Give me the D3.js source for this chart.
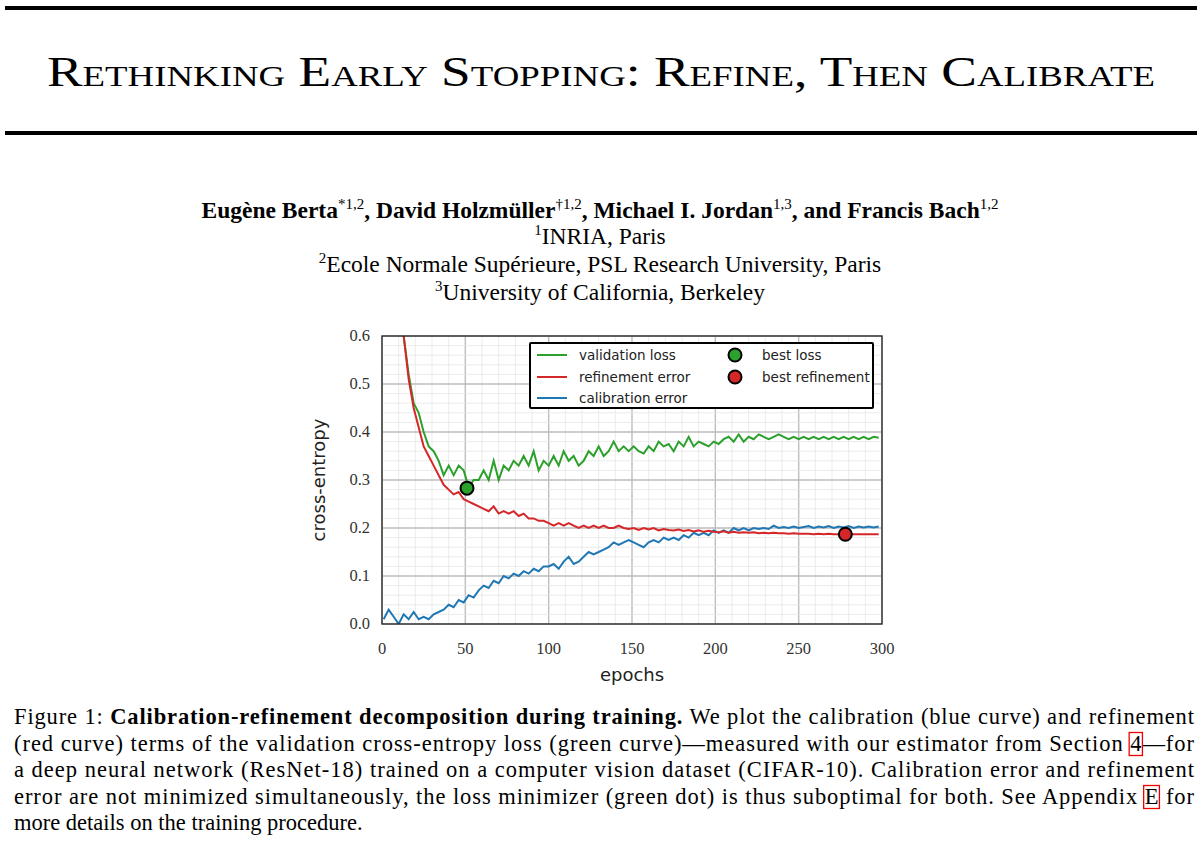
<!DOCTYPE html>
<html><head><meta charset="utf-8">
<script src="https://cdn.jsdelivr.net/npm/d3@7"></script>
<style>body{margin:0;background:#fff}svg{display:block}</style>
</head><body>
<svg id="s" width="1200" height="845"></svg>
<script>
const valLoss=[1.5,1.1,0.9,0.72,0.6,0.52,0.46,0.44,0.40,0.37,0.36,0.34,0.31,0.33,0.31,0.33,0.32,0.285,0.30,0.30,0.32,0.30,0.34,0.30,0.33,0.32,0.34,0.33,0.35,0.33,0.36,0.32,0.34,0.33,0.35,0.33,0.36,0.34,0.35,0.33,0.34,0.36,0.35,0.37,0.35,0.36,0.38,0.36,0.37,0.36,0.37,0.36,0.355,0.37,0.36,0.38,0.37,0.375,0.36,0.38,0.37,0.39,0.37,0.38,0.375,0.37,0.38,0.375,0.385,0.39,0.38,0.395,0.38,0.39,0.385,0.395,0.39,0.385,0.39,0.395,0.39,0.385,0.39,0.385,0.39,0.385,0.39,0.385,0.39,0.385,0.39,0.385,0.39,0.385,0.39,0.385,0.39,0.385,0.39,0.388];
const refErr=[1.5,1.1,0.9,0.72,0.6,0.51,0.45,0.41,0.37,0.35,0.33,0.31,0.29,0.28,0.27,0.275,0.26,0.255,0.25,0.245,0.24,0.235,0.245,0.23,0.235,0.23,0.235,0.225,0.23,0.22,0.22,0.215,0.215,0.21,0.205,0.21,0.205,0.21,0.205,0.2,0.205,0.2,0.205,0.2,0.205,0.2,0.2,0.205,0.2,0.198,0.2,0.196,0.2,0.197,0.2,0.195,0.198,0.196,0.195,0.197,0.194,0.196,0.193,0.195,0.192,0.194,0.192,0.191,0.193,0.19,0.192,0.19,0.191,0.19,0.191,0.189,0.19,0.189,0.19,0.189,0.189,0.188,0.189,0.188,0.188,0.188,0.187,0.188,0.187,0.188,0.187,0.187,0.188,0.187,0.187,0.187,0.187,0.187,0.187,0.187];
const calErr=[0.01,0.03,0.015,0.0,0.02,0.01,0.025,0.01,0.015,0.01,0.02,0.025,0.03,0.04,0.035,0.05,0.045,0.06,0.055,0.07,0.08,0.075,0.09,0.085,0.1,0.095,0.105,0.1,0.11,0.105,0.115,0.11,0.12,0.12,0.125,0.115,0.13,0.14,0.125,0.13,0.14,0.15,0.145,0.15,0.155,0.16,0.17,0.165,0.17,0.175,0.17,0.165,0.16,0.17,0.175,0.17,0.18,0.175,0.18,0.175,0.185,0.18,0.19,0.185,0.19,0.185,0.195,0.19,0.195,0.19,0.2,0.195,0.2,0.195,0.2,0.198,0.2,0.198,0.205,0.2,0.202,0.2,0.203,0.2,0.202,0.204,0.2,0.203,0.201,0.204,0.2,0.203,0.201,0.204,0.2,0.203,0.201,0.203,0.201,0.203];
const bestLoss={epoch:51,value:0.283};
const bestRef={epoch:278,value:0.187};
const xTicks=[0,50,100,150,200,250,300];
const yTicks=[0.0,0.1,0.2,0.3,0.4,0.5,0.6];

const svg=d3.select("#s");
const serif="'Liberation Serif','DejaVu Serif',serif";
const sans="'DejaVu Sans','Liberation Sans',sans-serif";
svg.append("rect").attr("x",5).attr("y",6).attr("width",1192).attr("height",4).attr("fill","#000");
svg.append("rect").attr("x",5).attr("y",131).attr("width",1192).attr("height",4).attr("fill","#000");
svg.append("text").attr("x",601).attr("y",86).attr("text-anchor","middle").attr("font-family",serif)
 .attr("font-size",42).style("font-variant","small-caps").attr("textLength",1108).attr("lengthAdjust","spacingAndGlyphs")
 .text("Rethinking Early Stopping: Refine, Then Calibrate");
const auth=svg.append("text").attr("x",600).attr("y",218).attr("text-anchor","middle").attr("font-family",serif).attr("font-size",23.5).attr("font-weight","bold");
[["Eugène Berta",""],["*1,2","s"],[", David Holzmüller",""],["†1,2","s"],[", Michael I. Jordan",""],["1,3","s"],[", and Francis Bach",""],["1,2","s"]].forEach(([t,k])=>{
 const ts=auth.append("tspan").text(t);
 if(k){ts.attr("font-size",15).attr("font-weight","normal").attr("dy",-9);} else ts.attr("dy",auth.selectAll("tspan").size()>1?9:0);
});
[["1","INRIA, Paris",244],["2","Ecole Normale Supérieure, PSL Research University, Paris",272],["3","University of California, Berkeley",300]].forEach(([s,t,y])=>{
 const tx=svg.append("text").attr("x",600).attr("y",y).attr("text-anchor","middle").attr("font-family",serif).attr("font-size",23.5);
 tx.append("tspan").attr("font-size",15).attr("dy",-9).text(s);
 tx.append("tspan").attr("dy",9).text(t);
});

const m={l:382,r:882,t:336,b:624};
const x=d3.scaleLinear().domain([0,300]).range([m.l,m.r]);
const y=d3.scaleLinear().domain([0,0.6]).range([m.b,m.t]);
const g=svg.append("g");
g.append("rect").attr("x",m.l).attr("y",m.t).attr("width",m.r-m.l).attr("height",m.b-m.t).attr("fill","#fff");
d3.range(0,301,10).forEach(v=>g.append("line").attr("x1",x(v)).attr("x2",x(v)).attr("y1",m.t).attr("y2",m.b).attr("stroke",v%50?"#e6e6e6":"#bdbdbd").attr("stroke-width",v%50?0.8:1.4));
d3.range(0,31,1).forEach(i=>{const v=i*0.02;g.append("line").attr("y1",y(v)).attr("y2",y(v)).attr("x1",m.l).attr("x2",m.r).attr("stroke",i%5?"#e6e6e6":"#bdbdbd").attr("stroke-width",i%5?0.8:1.4);});
svg.append("defs").append("clipPath").attr("id","c").append("rect").attr("x",m.l).attr("y",m.t).attr("width",m.r-m.l).attr("height",m.b-m.t);
const line=d3.line().x((d,i)=>x(i*3+1)).y(d=>y(d));
const lg=g.append("g").attr("clip-path","url(#c)");
[[valLoss,"#2ca02c"],[calErr,"#1f77b4"],[refErr,"#d62728"]].forEach(([d,c])=>lg.append("path").attr("d",line(d)).attr("fill","none").attr("stroke",c).attr("stroke-width",2));
g.append("rect").attr("x",m.l).attr("y",m.t).attr("width",m.r-m.l).attr("height",m.b-m.t).attr("fill","none").attr("stroke","#222").attr("stroke-width",1.3);
[[bestLoss,"#2ca02c"],[bestRef,"#d62728"]].forEach(([p,c])=>g.append("circle").attr("cx",x(p.epoch)).attr("cy",y(p.value)).attr("r",6.5).attr("fill",c).attr("stroke","#000").attr("stroke-width",2));
xTicks.forEach(v=>g.append("text").attr("x",x(v)).attr("y",m.b+30).attr("text-anchor","middle").attr("font-family",serif).attr("font-size",16.5).attr("fill","#333").text(v));
yTicks.forEach(v=>g.append("text").attr("x",m.l-12).attr("y",y(v)+5).attr("text-anchor","end").attr("font-family",serif).attr("font-size",16.5).attr("fill","#333").text(v.toFixed(1)));
g.append("text").attr("x",(m.l+m.r)/2).attr("y",681).attr("text-anchor","middle").attr("font-family",sans).attr("font-size",18).attr("fill","#222").text("epochs");
g.append("text").attr("transform",`translate(325,${(m.t+m.b)/2}) rotate(-90)`).attr("text-anchor","middle").attr("font-family",sans).attr("font-size",18).attr("fill","#222").text("cross-entropy");
const L=g.append("g");
L.append("rect").attr("x",530).attr("y",343).attr("width",343).attr("height",65).attr("fill","#fff").attr("stroke","#000").attr("stroke-width",2).attr("rx",1);
[["validation loss","#2ca02c",355],["refinement error","#d62728",377],["calibration error","#1f77b4",398]].forEach(([t,c,yy])=>{
 L.append("line").attr("x1",537).attr("x2",567).attr("y1",yy).attr("y2",yy).attr("stroke",c).attr("stroke-width",2);
 L.append("text").attr("x",579).attr("y",yy+5).attr("font-family",sans).attr("font-size",13.5).attr("fill","#222").text(t);
});
[["best loss","#2ca02c",355],["best refinement","#d62728",377]].forEach(([t,c,yy])=>{
 L.append("circle").attr("cx",735).attr("cy",yy).attr("r",6.5).attr("fill",c).attr("stroke","#000").attr("stroke-width",2);
 L.append("text").attr("x",762).attr("y",yy+5).attr("font-family",sans).attr("font-size",13.5).attr("fill","#222").text(t);
});
const cap=[
 [[["Figure 1: ",""],["Calibration-refinement decomposition during training.","b"],[" We plot the calibration (blue curve) and refinement",""]],true],
 [[["(red curve) terms of the validation cross-entropy loss (green curve)—measured with our estimator from Section ",""],["4","box"],["—for",""]],true],
 [[["a deep neural network (ResNet-18) trained on a computer vision dataset (CIFAR-10). Calibration error and refinement",""]],true],
 [[["error are not minimized simultaneously, the loss minimizer (green dot) is thus suboptimal for both. See Appendix ",""],["E","box"],[" for",""]],true],
 [[["more details on the training procedure.",""]],false]];
cap.forEach(([parts,just],i)=>{
 const yy=724+i*26.5;
 const t=svg.append("text").attr("x",14).attr("y",yy).attr("font-family",serif).attr("font-size",22.5);
 parts.forEach(([s,k])=>{const ts=t.append("tspan").text(s);if(k==="b")ts.attr("font-weight","bold");if(k==="box")ts.attr("class","bx");});
 if(just){t.attr("textLength",1180).attr("lengthAdjust","spacing");}
 t.selectAll("tspan.bx").each(function(){
   const n=this; const txt=t.node(); let start=0;
   const all=t.selectAll("tspan").nodes(); for(const a of all){if(a===n)break;start+=a.textContent.length;}
   const ext=txt.getExtentOfChar(start);
   svg.append("rect").attr("x",ext.x-1).attr("y",yy-18).attr("width",ext.width+2).attr("height",23).attr("fill","none").attr("stroke","#e00").attr("stroke-width",1.3);
 });
});
</script></body></html>
